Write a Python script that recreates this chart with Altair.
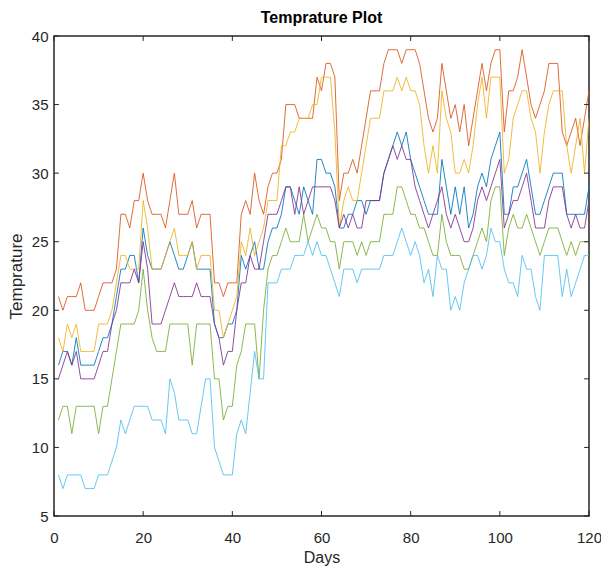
import altair as alt
import pandas as pd

days = list(range(1, 121))

red = [21,20,21,21,21,22,20,20,20,21,22,22,22,23,27,27,26,28,28,30,
       28,27,27,27,26,28,30,27,27,27,28,26,27,27,27,22,22,21,22,22,
       22,27,28,27,30,28,27,29,30,30,31,35,35,35,34,34,34,34,37,36,
       38,38,37,28,30,30,31,30,32,34,36,36,36,38,39,39,39,38,39,39,
       39,38,36,34,33,34,38,36,34,35,33,35,32,34,36,38,36,38,39,39,
       33,36,36,37,39,37,35,34,35,36,38,38,38,33,32,33,34,32,34,36]

orange = [18,17,19,18,19,17,17,17,17,19,19,19,20,22,24,24,23,23,23,28,
          26,23,23,23,24,25,26,24,24,24,25,23,24,24,24,20,20,18,19,20,
          21,25,24,26,24,25,26,28,28,28,32,32,33,33,34,34,34,35,35,37,
          37,37,33,26,28,29,28,28,30,32,34,34,34,36,36,36,37,36,37,36,
          36,35,32,30,32,30,36,34,33,30,30,31,30,32,35,37,34,37,37,37,
          30,31,34,35,36,36,34,33,30,33,35,36,36,36,32,30,32,34,30,34]

blue = [16,17,17,16,18,16,16,16,16,17,18,18,19,21,23,23,24,24,22,26,
        24,23,23,23,24,25,24,23,23,24,25,23,23,23,23,19,18,18,19,19,
        20,24,23,24,25,23,23,25,26,26,27,29,29,28,27,29,28,27,31,31,
        30,30,29,26,26,27,27,28,28,27,28,28,28,30,31,32,33,32,33,31,
        30,29,28,27,27,27,31,29,27,29,27,29,26,27,29,30,29,31,32,33,
        27,27,29,29,30,31,29,27,27,28,29,30,30,30,27,27,27,27,27,29]

purple = [15,16,17,16,17,15,15,15,15,16,17,17,19,20,22,22,22,23,22,25,
          23,19,19,19,20,21,22,21,21,21,21,22,21,21,21,19,18,16,17,17,
          20,22,22,24,23,23,25,27,27,27,28,29,29,27,29,27,28,29,29,29,
          29,29,28,26,27,26,27,26,26,28,28,28,28,30,31,32,31,32,31,31,
          29,28,27,26,27,28,29,27,26,27,26,25,25,26,28,29,28,29,30,31,
          26,27,28,28,29,30,28,26,26,26,28,29,29,29,27,26,27,26,26,28]

green = [12,13,13,11,13,13,13,13,13,11,13,13,15,17,19,19,19,19,20,23,
         20,18,17,17,17,19,19,19,19,19,16,19,19,19,19,15,15,12,13,13,
         16,17,19,19,19,15,20,23,24,24,25,26,25,25,25,27,25,26,27,26,
         26,25,25,23,25,25,25,24,25,24,25,25,25,27,27,27,29,29,28,27,
         27,26,26,25,24,24,27,25,24,24,24,23,23,24,25,26,25,28,29,29,
         24,26,27,26,26,27,26,25,24,25,26,26,26,25,24,25,24,25,25,25]

cyan = [8,7,8,8,8,8,7,7,7,8,8,8,9,10,12,11,12,13,13,13,
        13,12,12,12,11,15,14,12,12,12,11,11,13,15,15,10,9,8,8,8,
        11,12,11,14,17,15,15,22,22,22,23,23,23,24,24,24,25,24,25,24,
        24,23,22,21,23,23,23,22,23,23,23,23,23,24,24,24,25,26,25,24,
        25,24,22,23,21,24,23,23,20,21,20,22,23,24,24,23,24,26,25,25,
        23,22,22,21,24,23,23,21,20,24,24,24,24,21,23,21,22,23,24,24]

series_names = ["s1", "s2", "s3", "s4", "s5", "s6"]
series_values = [blue, red, orange, purple, green, cyan]
series_colors = ["#0072BD", "#D95319", "#EDB120", "#7E2F8E", "#77AC30", "#4DBEEE"]

x_ticks = [0, 20, 40, 60, 80, 100, 120]
y_ticks = [5, 10, 15, 20, 25, 30, 35, 40]

rows = []
for name, vals in zip(series_names, series_values):
    for d, v in zip(days, vals):
        rows.append({"day": d, "value": v, "series": name})
df = pd.DataFrame(rows)

xt = pd.DataFrame({"t": x_ticks})
yt = pd.DataFrame({"t": y_ticks})

xscale = alt.Scale(domain=[0, 120], nice=False, zero=False)
yscale = alt.Scale(domain=[5, 40], nice=False, zero=False)

axis_color = "#262626"

xaxis = alt.Axis(values=x_ticks, title="Days", labelPadding=14, labelFlush=False,
                 titleY=41, titleBaseline="middle", titleFontSize=16)
yaxis = alt.Axis(values=y_ticks, title="Temprature", labelPadding=6, labelFlush=False,
                 titleX=-38, titleY=240, titleBaseline="middle")

lines = alt.Chart(df).mark_line(strokeWidth=1, opacity=0.85, clip=True).encode(
    x=alt.X("day:Q", scale=xscale, axis=xaxis, title="Days"),
    y=alt.Y("value:Q", scale=yscale, axis=yaxis, title="Temprature"),
    color=alt.Color("series:N", scale=alt.Scale(domain=series_names, range=series_colors), legend=None),
    detail="series:N",
)

tick_len_x = 1.1
tick_len_y = 0.36

bottom_ticks = alt.Chart(xt).mark_rule(color=axis_color, strokeWidth=1).encode(
    x=alt.X("t:Q", scale=xscale, axis=xaxis, title="Days"),
    y=alt.Y(datum=5, scale=yscale, axis=yaxis, title="Temprature"),
    y2=alt.datum(5 + tick_len_y),
)
top_ticks = alt.Chart(xt).mark_rule(color=axis_color, strokeWidth=1).encode(
    x=alt.X("t:Q", scale=xscale, axis=xaxis, title="Days"),
    y=alt.Y(datum=40, scale=yscale, axis=yaxis, title="Temprature"),
    y2=alt.datum(40 - tick_len_y),
)
left_ticks = alt.Chart(yt).mark_rule(color=axis_color, strokeWidth=1).encode(
    y=alt.Y("t:Q", scale=yscale, axis=yaxis, title="Temprature"),
    x=alt.X(datum=0, scale=xscale, axis=xaxis, title="Days"),
    x2=alt.datum(tick_len_x),
)
right_ticks = alt.Chart(yt).mark_rule(color=axis_color, strokeWidth=1).encode(
    y=alt.Y("t:Q", scale=yscale, axis=yaxis, title="Temprature"),
    x=alt.X(datum=120, scale=xscale, axis=xaxis, title="Days"),
    x2=alt.datum(120 - tick_len_x),
)

chart = alt.layer(lines, bottom_ticks, top_ticks, left_ticks, right_ticks).properties(
    width=535,
    height=480,
    title=alt.TitleParams("Temprature Plot", fontSize=16, fontWeight="bold",
                          font="Liberation Sans", color="#000000", offset=3, anchor="middle"),
    autosize=alt.AutoSizeParams(type="none"),
    padding={"left": 46, "top": 28, "right": 12, "bottom": 52},
).configure_view(
    stroke=axis_color, strokeWidth=1.5
).configure_axis(
    domain=False, ticks=False, grid=False,
    labelFont="Liberation Sans", labelFontSize=15, labelColor=axis_color,
    titleFont="Liberation Sans", titleFontSize=17, titleColor=axis_color,
    titleFontWeight="normal",
)

chart.save("out.html", embed_options={"renderer": "svg", "actions": False})
